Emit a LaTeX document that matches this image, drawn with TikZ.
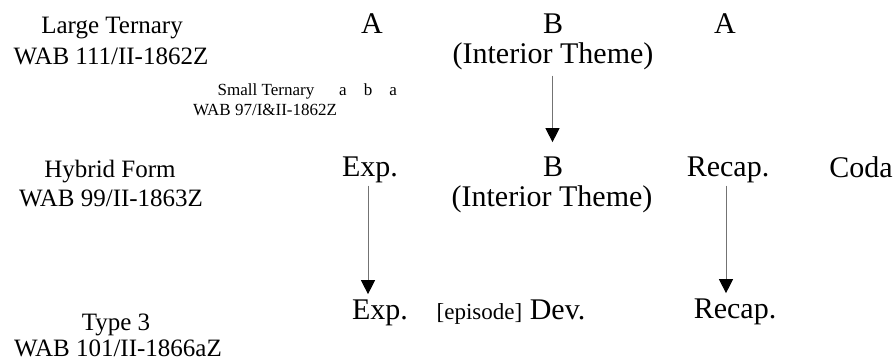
\documentclass[tikz,border=0pt]{standalone}
\usepackage{fontspec}
\setmainfont{Liberation Serif}
\usetikzlibrary{arrows.meta}

\tikzset{
  lbl/.style={anchor=base, inner sep=0pt, font=\fontsize{25}{30}\selectfont},
  part/.style={anchor=base, inner sep=0pt, font=\fontsize{30}{35}\selectfont},
  tiny/.style={anchor=base, inner sep=0pt, font=\fontsize{17}{20}\selectfont},
  flow/.style={draw=black!55, line width=1pt,
    -{Triangle[width=14pt,length=14pt,color=black,fill=black]}}
}

\begin{document}
\begin{tikzpicture}[x=1pt,y=-1pt]
\useasboundingbox (0,0) rectangle (896,362);

% Large ternary row
\node[lbl]  (lt)   at (112,33)  {Large Ternary};
\node[lbl]  (ltw)  at (111,64)  {WAB 111/II-1862Z};
\node[part] (a1)   at (372,33)  {A};
\node[part] (b1)   at (553,33)  {B};
\node[part] (it1)  at (553,63)  {(Interior Theme)};
\node[part] (a2)   at (725,33)  {A};

% small ternary
\node[tiny] (st)   at (266,95)  {Small Ternary};
\node[tiny] (aba)  at (368,95)  {a\quad b\quad a};
\node[tiny] (stw)  at (265,115) {WAB 97/I\&II-1862Z};

% Hybrid form row
\node[lbl]  (hf)   at (110,177) {Hybrid Form};
\node[lbl]  (hfw)  at (111,206) {WAB 99/II-1863Z};
\node[part] (e1)   at (370,176) {Exp.};
\node[part] (b2)   at (553,176) {B};
\node[part] (it2)  at (552,206) {(Interior Theme)};
\node[part] (r1)   at (728,176) {Recap.};
\node[part] (coda) at (861,177) {Coda};

% Type 3 row
\node[lbl]  (t3)   at (116,330) {Type 3};
\node[lbl]  (t3w)  at (118,356) {WAB 101/II-1866aZ};
\node[part] (e2)   at (380,319) {Exp.};
\node[part] (dev)  at (511,319) {{\fontsize{23}{28}\selectfont[episode]} Dev.};
\node[part] (r2)   at (735,318) {Recap.};

% connectors
\draw[flow, shorten <=6pt, shorten >=14pt] ([xshift=-0.5pt]it1.south) -- ([xshift=-0.5pt]it1.south |- b2.north);
\draw[flow, shorten <=3pt, shorten >=5pt] ([xshift=-2pt]e1.south) -- ([xshift=-2pt]e1.south |- e2.north);
\draw[flow, shorten <=3pt, shorten >=5pt] ([xshift=-2pt]r1.south) -- ([xshift=-2pt]r1.south |- r2.north);
\end{tikzpicture}
\end{document}
